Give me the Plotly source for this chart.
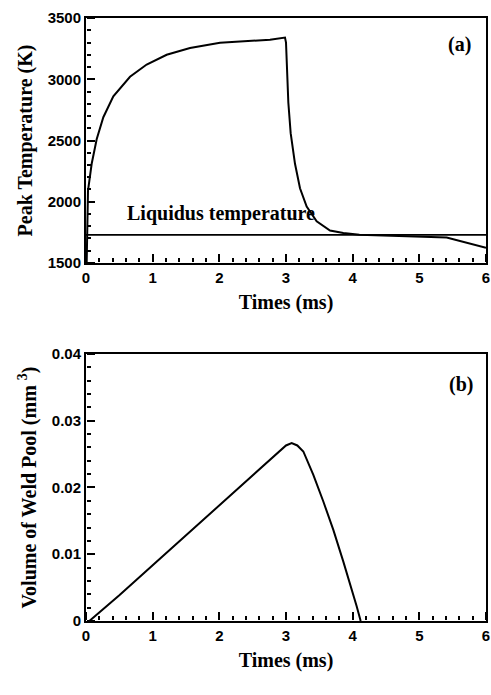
import plotly.graph_objects as go

# ---- data ----
time_a = [0.01, 0.03, 0.085, 0.16, 0.26, 0.41, 0.66, 0.91, 1.21, 1.56, 2.01, 2.5, 2.76,
          2.985, 3.0, 3.035, 3.07, 3.135, 3.21, 3.31, 3.46, 3.66, 3.86, 4.1, 4.5, 5.0, 5.41, 6.0]
temp_a = [1500, 2090, 2310, 2510, 2690, 2860, 3020, 3120, 3200, 3255, 3298, 3312, 3322,
          3340, 3300, 2810, 2560, 2310, 2110, 1960, 1840, 1765, 1745, 1730, 1722, 1715, 1708, 1625]

liquidus_x = [0, 6]
liquidus_t = [1730, 1730]

time_b = [0.05, 0.5, 1.0, 1.5, 2.0, 2.5, 2.76, 2.95, 3.0, 3.085, 3.17, 3.26, 3.41, 3.56,
          3.71, 3.86, 3.985, 4.06, 4.12]
vol_b = [0.0, 0.00386, 0.00835, 0.01284, 0.01733, 0.02181, 0.02415, 0.0259, 0.0263, 0.02665,
         0.0263, 0.0254, 0.0219, 0.0179, 0.01365, 0.0089, 0.0049, 0.0022, 0.0]

# ---- figure ----
tickfont = dict(family="Liberation Sans, Arial", size=15, color="black", weight="bold")
titlefont = dict(family="Liberation Serif, Times New Roman", size=20, color="black", weight="bold")
annfont = dict(family="Liberation Serif, Times New Roman", size=20, color="black", weight="bold")

fig = go.Figure()
fig.add_trace(go.Scatter(x=time_a, y=temp_a, mode="lines", line=dict(color="black", width=2),
                         xaxis="x", yaxis="y", showlegend=False))
fig.add_trace(go.Scatter(x=liquidus_x, y=liquidus_t, mode="lines", line=dict(color="black", width=1.8),
                         xaxis="x", yaxis="y", showlegend=False))
fig.add_trace(go.Scatter(x=time_b, y=vol_b, mode="lines", line=dict(color="black", width=2),
                         xaxis="x2", yaxis="y2", showlegend=False))

# invisible carriers for the tick-only helper axes (ticks pointing into the plots, right borders)
for xa, ya, xs, ys in [("x", "y3", liquidus_x, liquidus_t), ("x", "y7", liquidus_x, liquidus_t),
                       ("x3", "y5", liquidus_x, liquidus_t),
                       ("x2", "y4", time_b, vol_b), ("x2", "y8", time_b, vol_b),
                       ("x4", "y6", time_b, vol_b)]:
    fig.add_trace(go.Scatter(x=xs, y=ys, mode="lines", line=dict(color="rgba(0,0,0,0)", width=0),
                             xaxis=xa, yaxis=ya, showlegend=False, hoverinfo="skip"))


def axis(**kw):
    base = dict(showline=True, linecolor="black", linewidth=2, mirror=True, showgrid=False,
                zeroline=False, ticks="", tickfont=tickfont, automargin=False, tickmode="linear")
    base.update(kw)
    return base


def tick_axis(**kw):
    base = dict(showline=False, showgrid=False, zeroline=False, showticklabels=False,
                ticks="outside", ticklen=8, tickwidth=2, tickcolor="black",
                automargin=False, tickmode="linear")
    base.update(kw)
    return base


def minor(d):
    return dict(ticks="outside", dtick=d, ticklen=4, tickwidth=1.5, tickcolor="black")


def border_axis(**kw):
    base = dict(showline=True, linecolor="black", linewidth=2, showgrid=False, zeroline=False,
                showticklabels=False, ticks="", automargin=False, side="right")
    base.update(kw)
    return base


# plot area: 18 px top, 40 px bottom margin -> 637 px tall
fig.update_layout(
    template="none",
    width=491, height=695,
    margin=dict(l=86, r=5, t=18, b=40),
    paper_bgcolor="white", plot_bgcolor="rgba(0,0,0,0)",
    xaxis=axis(domain=[0, 1], anchor="y", range=[0, 6], tick0=0, dtick=1,
               title=dict(text="Times (ms)", font=titlefont, standoff=10)),
    yaxis=axis(domain=[0.6154, 1], anchor="x", range=[1500, 3500], tick0=1500, dtick=500,
               title=dict(text="Peak Temperature (K)", font=titlefont, standoff=10)),
    xaxis2=axis(domain=[0, 1], anchor="y2", range=[0, 6], tick0=0, dtick=1,
                title=dict(text="Times (ms)", font=titlefont, standoff=10)),
    yaxis2=axis(domain=[0.0534, 0.4725], anchor="x2", range=[0, 0.04], tick0=0, dtick=0.01,
                title=dict(text="Volume of Weld Pool (mm <sup>3</sup>)", font=titlefont, standoff=10)),
    # y ticks pointing right from the left edge
    yaxis3=tick_axis(overlaying="y", side="right", anchor="free", position=0,
                     range=[1500, 3500], tick0=1500, dtick=500, minor=minor(100)),
    yaxis4=tick_axis(overlaying="y2", side="right", anchor="free", position=0,
                     range=[0, 0.04], tick0=0, dtick=0.01, minor=minor(0.002)),
    # x ticks pointing up from the bottom edge: top side of a hidden strip just below each plot
    xaxis3=tick_axis(domain=[0, 1], anchor="y5", side="top", range=[0, 6], tick0=0, dtick=1,
                     minor=minor(0.2)),
    yaxis5=dict(domain=[0.56, 0.6154], anchor="x3", visible=False, range=[1500, 3500]),
    xaxis4=tick_axis(domain=[0, 1], anchor="y6", side="top", range=[0, 6], tick0=0, dtick=1,
                     minor=minor(0.2)),
    yaxis6=dict(domain=[0, 0.0534], anchor="x4", visible=False, range=[0, 0.04]),
    # right-hand frame lines
    yaxis7=border_axis(overlaying="y", anchor="x", range=[1500, 3500]),
    yaxis8=border_axis(overlaying="y2", anchor="x2", range=[0, 0.04]),
    annotations=[
        dict(text="(a)", x=5.6, y=3283, xref="x", yref="y", showarrow=False, font=annfont),
        dict(text="(b)", x=5.63, y=0.0355, xref="x2", yref="y2", showarrow=False, font=annfont),
        dict(text="Liquidus temperature", x=0.585, y=1900, xref="x", yref="y", showarrow=False,
             xanchor="left", yanchor="middle", font=annfont),
    ],
)

fig.write_html("out.html", config={"displayModeBar": False},
               post_script="document.body.style.margin='0';document.body.style.overflow='hidden';")
